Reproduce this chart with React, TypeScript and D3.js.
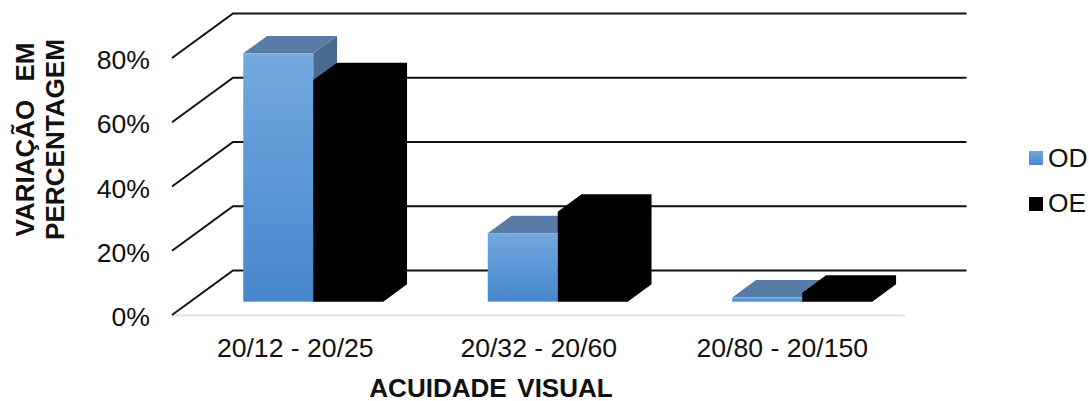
import React from "react";
import * as d3 from "d3";

const categories = ["20/12 - 20/25", "20/32 - 20/60", "20/80 - 20/150"];
const seriesNames = ["OD", "OE"];
const odValues = [77.3, 21.3, 1.3];
const oeValues = [69, 28, 2.8];
const axisTicks = [0, 20, 40, 60, 80, 100];
const tickLabels = ["0%", "20%", "40%", "60%", "80%"];

const WIDTH = 1089;
const HEIGHT = 401;
const FONT = "'Liberation Sans', Arial, sans-serif";

// Oblique 3D projection: depth 0 is the front of the floor, depth 1 the back wall.
const DEPTH_X = 61;
const DEPTH_Y = -44.5;
const BAR_FRONT = 0.3;
const BAR_BACK = 0.69;

const x = d3.scaleBand<string>().domain(categories).range([172, 905.5]);
const labelX = d3.scaleBand<string>().domain(categories).range([173.5, 904]);
const inner = d3.scaleBand<string>().domain(seriesNames).range([0, 140]);
const y = d3.scaleLinear().domain([0, 80]).range([315, 58]);

const px = (sx: number, depth: number) => sx + DEPTH_X * depth;
const py = (v: number, depth: number) => y(v) + DEPTH_Y * depth;
const line = d3.line<[number, number]>();

function Bar({ left, width, value, front, top, side, solid }: {
  left: number; width: number; value: number;
  front: string; top: string; side: string; solid?: boolean;
}) {
  const l = px(left, BAR_FRONT);
  const r = px(left + width, BAR_FRONT);
  const lb = px(left, BAR_BACK);
  const rb = px(left + width, BAR_BACK);
  const ft = py(value, BAR_FRONT);
  const fb = py(0, BAR_FRONT);
  const bt = py(value, BAR_BACK);
  const bb = py(0, BAR_BACK);
  // A solid bar is one silhouette, so its faces leave no seams between them.
  if (solid) {
    return (
      <path d={line([[l, fb], [l, ft], [lb, bt], [rb, bt], [rb, bb], [r, fb]]) + "Z"} fill={front} />
    );
  }
  return (
    <g>
      <path d={line([[r, ft], [rb, bt], [rb, bb], [r, fb]]) + "Z"} fill={side} />
      <path d={line([[l, ft], [lb, bt], [rb, bt], [r, ft]]) + "Z"} fill={top} />
      <rect x={l} y={ft} width={r - l} height={fb - ft} fill={front} />
    </g>
  );
}

export default function App() {
  const textStyle = { fontFamily: FONT, fill: "#111" };
  return (
    <svg width={WIDTH} height={HEIGHT} viewBox={`0 0 ${WIDTH} ${HEIGHT}`}
      style={{ position: "absolute", left: 0, top: 0, background: "#fff" }}>
      <defs>
        <linearGradient id="odFill" x1="0" y1="0" x2="0" y2="1">
          <stop offset="0" stopColor="#73a8e0" />
          <stop offset="1" stopColor="#4587cc" />
        </linearGradient>
      </defs>

      {/* floor edge */}
      <line x1={x.range()[0]} x2={x.range()[1]} y1={y(0) + 0.5} y2={y(0) + 0.5}
        stroke="#dfe3ea" strokeWidth={2} />

      {/* side wall and back wall gridlines */}
      {axisTicks.map((t) => (
        <path key={t}
          d={line([
            [x.range()[0], py(t, 0)],
            [px(x.range()[0], 1), py(t, 1)],
            [px(x.range()[1], 1), py(t, 1)],
          ]) as string}
          fill="none" stroke="#111" strokeWidth={2} />
      ))}

      {/* bars */}
      {categories.map((c, i) => {
        const start = (x(c) as number) + x.bandwidth() / 2 - inner.range()[1] / 2 + 0.7;
        return (
          <g key={c}>
            <Bar left={start + (inner("OD") as number)} width={inner.bandwidth()}
              value={odValues[i]} front="url(#odFill)" top="#587ca6" side="#486b8e" />
            <Bar left={start + (inner("OE") as number)} width={inner.bandwidth()}
              value={oeValues[i]} front="#000" top="#000" side="#000" solid />
          </g>
        );
      })}

      {/* value axis labels */}
      {tickLabels.map((label, i) => (
        <text key={label} x={150} y={y(axisTicks[i]) + 11} textAnchor="end" fontSize={26.6} style={textStyle}>
          {label}
        </text>
      ))}

      {/* category labels */}
      {categories.map((c) => (
        <text key={c} x={(labelX(c) as number) + labelX.bandwidth() / 2} y={356.5} textAnchor="middle" fontSize={26.6} style={textStyle}>
          {c}
        </text>
      ))}

      {/* axis titles */}
      <text x={491} y={396.5} textAnchor="middle" fontSize={26} fontWeight="bold" wordSpacing={3.5} style={textStyle}>
        ACUIDADE VISUAL
      </text>
      <g transform="translate(33.5,139.5) rotate(-90)">
        <text x={0} y={0} textAnchor="middle" fontSize={26} fontWeight="bold" wordSpacing={11} style={textStyle}>
          VARIAÇÃO EM
        </text>
        <text x={0} y={30} textAnchor="middle" fontSize={26.1} fontWeight="bold" style={textStyle}>
          PERCENTAGEM
        </text>
      </g>

      {/* legend */}
      {seriesNames.map((name, i) => (
        <g key={name}>
          <rect x={1029} y={151 + i * 46} width={14} height={14} fill={i === 0 ? "url(#odFill)" : "#000"} />
          <text x={1048} y={167 + i * 45} fontSize={26.4} style={textStyle}>{name}</text>
        </g>
      ))}
    </svg>
  );
}
